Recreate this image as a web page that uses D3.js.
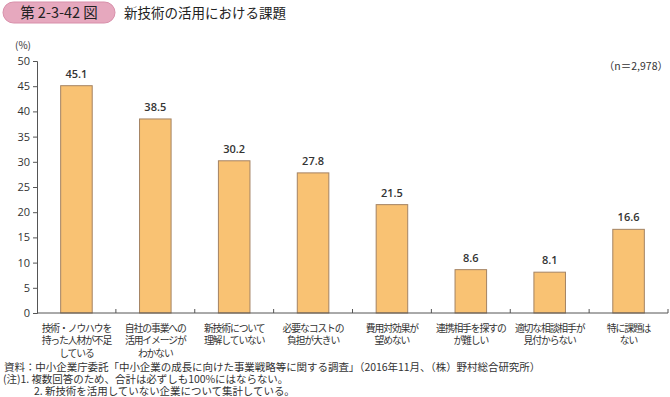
<!DOCTYPE html>
<html><head><meta charset="utf-8">
<script src="https://cdn.jsdelivr.net/npm/d3@7"></script>
<style>
body{margin:0;background:#fff;}
svg{font-family:"Noto Sans CJK JP","Noto Sans",sans-serif;}
</style></head>
<body><svg id="c" width="670" height="397"></svg>
<script>
const categories = [
  ["技術・ノウハウを","持った人材が不足","している"],
  ["自社の事業への","活用イメージが","わかない"],
  ["新技術について","理解していない"],
  ["必要なコストの","負担が大きい"],
  ["費用対効果が","望めない"],
  ["連携相手を探すの","が難しい"],
  ["適切な相談相手が","見付からない"],
  ["特に課題は","ない"]
];
const values = [45.1, 38.5, 30.2, 27.8, 21.5, 8.6, 8.1, 16.6];
const yTicks = [0,5,10,15,20,25,30,35,40,45,50];
const notes = [
  {x:4,  t:"資料：中小企業庁委託「中小企業の成長に向けた事業戦略等に関する調査」（2016年11月、（株）野村総合研究所）"},
  {x:3,  t:"(注)1. 複数回答のため、合計は必ずしも100%にはならない。"},
  {x:34, t:"2. 新技術を活用していない企業について集計している。"}
];

const svg = d3.select("#c");
const txt = "#333";
const L = 37, R = 668, T = 61, B = 313;

// title badge
svg.append("rect").attr("x",3).attr("y",2).attr("width",112).attr("height",21).attr("rx",10.5)
  .attr("fill","#E6A8BE").attr("stroke","#D88FAA").attr("stroke-width",1);
svg.append("text").attr("x",59).attr("y",18).attr("text-anchor","middle").attr("font-size",14.5)
  .attr("fill","#222").text("第 2-3-42 図");
svg.append("text").attr("x",124).attr("y",18).attr("font-size",13.5).attr("fill","#222")
  .text("新技術の活用における課題");

const x = d3.scaleBand().domain(d3.range(categories.length)).range([L,R]).paddingInner(0.6).paddingOuter(0.3);
const y = d3.scaleLinear().domain([0,50]).range([B,T]);

// y axis
const ya = svg.append("g").attr("transform",`translate(${L},0)`)
  .call(d3.axisLeft(y).tickValues(yTicks).tickSize(4).tickPadding(3));
ya.select(".domain").attr("stroke","#555");
ya.selectAll(".tick line").attr("stroke","#555");
ya.selectAll(".tick text").attr("font-size",11).attr("fill",txt).attr("font-family","'Open Sans','Noto Sans',sans-serif");
svg.append("text").attr("x",23).attr("y",49).attr("text-anchor","middle").attr("font-size",10).attr("fill",txt).text("(%)");

// bars
svg.append("g").selectAll("rect").data(values).join("rect")
  .attr("x",(d,i)=>x(i)).attr("y",d=>y(d)).attr("width",x.bandwidth()).attr("height",d=>B-y(d))
  .attr("fill","#F9C273").attr("stroke","#A48363").attr("stroke-width",1);

// value labels
svg.append("g").selectAll("text").data(values).join("text")
  .attr("x",(d,i)=>x(i)+x.bandwidth()/2).attr("y",d=>y(d)-8).attr("text-anchor","middle")
  .attr("font-size",11).attr("font-weight",600).attr("fill",txt)
  .attr("font-family","'Open Sans','Noto Sans',sans-serif").text(d=>d.toFixed(1));

// x axis baseline with boundary ticks
const step = x.step();
const xb = svg.append("g");
xb.append("line").attr("x1",L).attr("x2",R).attr("y1",B).attr("y2",B).attr("stroke","#555");
xb.selectAll("line.t").data(d3.range(1,categories.length+1)).join("line").attr("class","t")
  .attr("x1",i=>L+i*step).attr("x2",i=>L+i*step).attr("y1",B).attr("y2",B-4).attr("stroke","#555");

// category labels
const cl = svg.append("g").selectAll("text").data(categories).join("text")
  .attr("text-anchor","middle").attr("font-size",9.8).attr("letter-spacing",-1.1).attr("fill",txt);
cl.each(function(lines,i){
  const t = d3.select(this);
  lines.forEach((s,j)=>t.append("tspan").attr("x",x(i)+x.bandwidth()/2).attr("y",331.5+j*12.8).text(s));
});

// n label
svg.append("text").attr("x",668).attr("y",70).attr("text-anchor","end").attr("font-size",10.5).attr("fill",txt).text("（n＝2,978）");

// notes
svg.append("g").selectAll("text").data(notes).join("text")
  .attr("x",d=>d.x).attr("y",(d,i)=>370.5+i*12).attr("font-size",10.5).attr("letter-spacing",-0.05).attr("fill",txt)
  .text(d=>d.t);
</script></body></html>
